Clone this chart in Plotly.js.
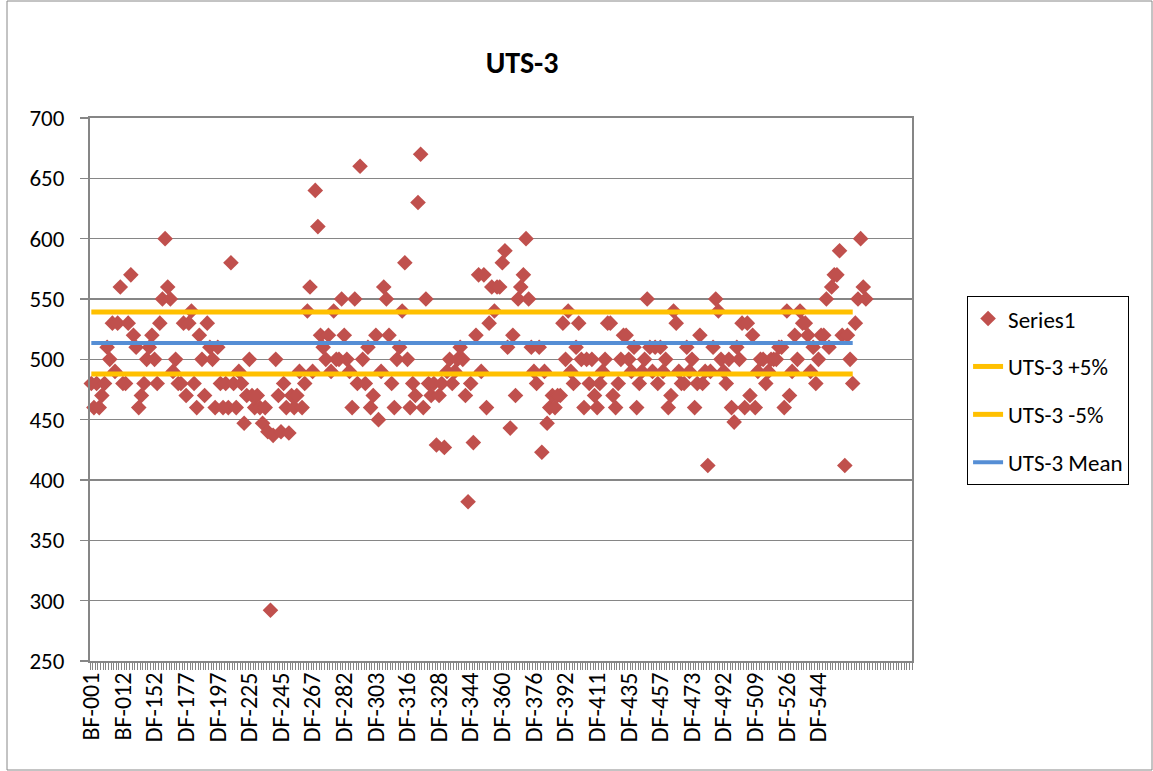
<!DOCTYPE html>
<html>
<head>
<meta charset="utf-8">
<script src="https://cdn.plot.ly/plotly-3.0.1.min.js"></script>
<style>
html,body{margin:0;padding:0;background:#fff;}
#chart{width:1153px;height:771px;}
</style>
</head>
<body>
<div id="chart"></div>
<script>
// ---- data ----
const tickLabels = ['BF-001','BF-012','DF-152','DF-177','DF-197','DF-225','DF-245','DF-267','DF-282','DF-303','DF-316','DF-328','DF-344','DF-360','DF-376','DF-392','DF-411','DF-435','DF-457','DF-473','DF-492','DF-509','DF-526','DF-544'];
const labelEvery = 12;
const categoryCount = 312;

const series1 = [
 480,460,480,460,470,480,510,500,530,490,
 530,560,480,480,530,570,520,510,460,470,
 480,500,510,520,500,480,530,550,600,560,
 550,490,500,480,480,530,470,530,540,480,
 460,520,500,470,530,510,500,460,510,480,
 460,480,460,580,480,460,490,480,447,470,
 500,470,460,470,460,447,460,440,292,437,
 500,470,440,480,460,439,470,460,470,490,
 460,480,540,560,490,640,610,520,510,500,
 520,490,540,500,500,550,520,500,490,460,
 550,480,660,500,480,510,460,470,520,450,
 490,560,550,520,480,460,500,510,540,580,
 500,460,480,470,630,670,460,550,480,470,
 480,429,470,480,427,490,500,480,490,500,
 510,500,470,382,480,431,520,570,490,570,
 460,530,560,540,560,560,580,590,510,443,
 520,470,550,560,570,600,550,510,490,480,
 510,423,490,447,460,470,460,470,470,530,
 500,540,490,480,510,530,500,460,500,480,
 500,470,460,480,490,500,530,530,470,460,
 480,500,520,520,500,490,510,460,480,490,
 500,550,510,490,510,480,510,490,500,460,
 470,540,530,490,480,480,510,490,500,460,
 480,520,480,490,412,490,510,550,540,500,
 490,480,500,460,448,510,500,530,460,530,
 470,520,460,490,500,500,480,490,500,500,
 500,510,510,460,540,470,490,520,500,540,
 530,530,520,490,510,480,500,520,520,550,
 510,560,570,570,590,520,412,520,500,480,
 530,550,600,560,550
];

const utsMean = 513.5;
const utsPlus = 539.2;
const utsMinus = 487.8;
const refLineLength = 290; // number of categories covered by the reference lines

// ---- build ----
const xIdx = series1.map((_, i) => i);
const lineX = [0, refLineLength - 1];
const tickvals = tickLabels.map((_, i) => i * labelEvery);

const FONT = 'Carlito, Calibri, Lato, "Open Sans", sans-serif';
const GRID = '#868686';

const traces = [
  {x: xIdx, y: series1, type: 'scatter', mode: 'markers', name: 'Series1',
   marker: {symbol: 'diamond', size: 12, color: '#C0504D'}, legendgroup: 'a', cliponaxis: false},
  {x: lineX, y: [utsPlus, utsPlus], type: 'scatter', mode: 'lines', name: 'UTS-3 +5%',
   line: {color: '#FFC000', width: 5}, legendgroup: 'b'},
  {x: lineX, y: [utsMinus, utsMinus], type: 'scatter', mode: 'lines', name: 'UTS-3 -5%',
   line: {color: '#FFC000', width: 5}, legendgroup: 'c'},
  {x: lineX, y: [utsMean, utsMean], type: 'scatter', mode: 'lines', name: 'UTS-3 Mean',
   line: {color: '#558ED5', width: 4}, legendgroup: 'd'}
];

const layout = {
  width: 1153, height: 771,
  margin: {l: 90, r: 241, t: 118, b: 110},
  paper_bgcolor: '#fff', plot_bgcolor: '#fff',
  font: {family: FONT, size: 19, color: '#000'},
  title: {text: '<b>UTS-3</b>', x: (522 - 90) / 822, xanchor: 'center', xref: 'paper', y: 1 - 62/771, yanchor: 'middle', font: {size: 30, family: FONT}},
  showlegend: true,
  legend: {x: 1.067, xanchor: 'left', y: 0.672, yanchor: 'top', bordercolor: '#000', borderwidth: 1,
           traceorder: 'grouped', tracegroupgap: 15, font: {size: 23, family: FONT}},
  xaxis: {
    range: [-0.5, categoryCount - 0.5], tickmode: 'array', tickvals: tickvals, ticktext: tickLabels,
    tickangle: -90, ticks: '', showgrid: false, zeroline: false,
    showline: true, linecolor: GRID, linewidth: 2, mirror: true,
    tickfont: {size: 24, family: FONT},
    minor: {ticks: 'outside', tickmode: 'linear', tick0: -0.5, dtick: 1, ticklen: 7, tickcolor: GRID, tickwidth: 1, showgrid: false}
  },
  yaxis: {
    range: [250, 700], dtick: 50, tick0: 250, showgrid: true, gridcolor: GRID, gridwidth: 1.5,
    ticks: 'outside', ticklen: 8, tickcolor: GRID, tickwidth: 1.5, ticklabelstandoff: 11,
    showline: true, linecolor: GRID, linewidth: 2, mirror: true, zeroline: false,
    tickfont: {size: 23, family: FONT}
  },
  shapes: [
    {type: 'rect', xref: 'paper', yref: 'paper',
     x0: (7 - 90) / 822, x1: (1152 - 90) / 822, y0: (661 - 770) / 543, y1: (661 - 1) / 543,
     line: {color: '#888', width: 1}, fillcolor: 'rgba(0,0,0,0)', layer: 'below'}
  ]
};

Plotly.newPlot('chart', traces, layout, {displayModeBar: false, staticPlot: true});
</script>
</body>
</html>
